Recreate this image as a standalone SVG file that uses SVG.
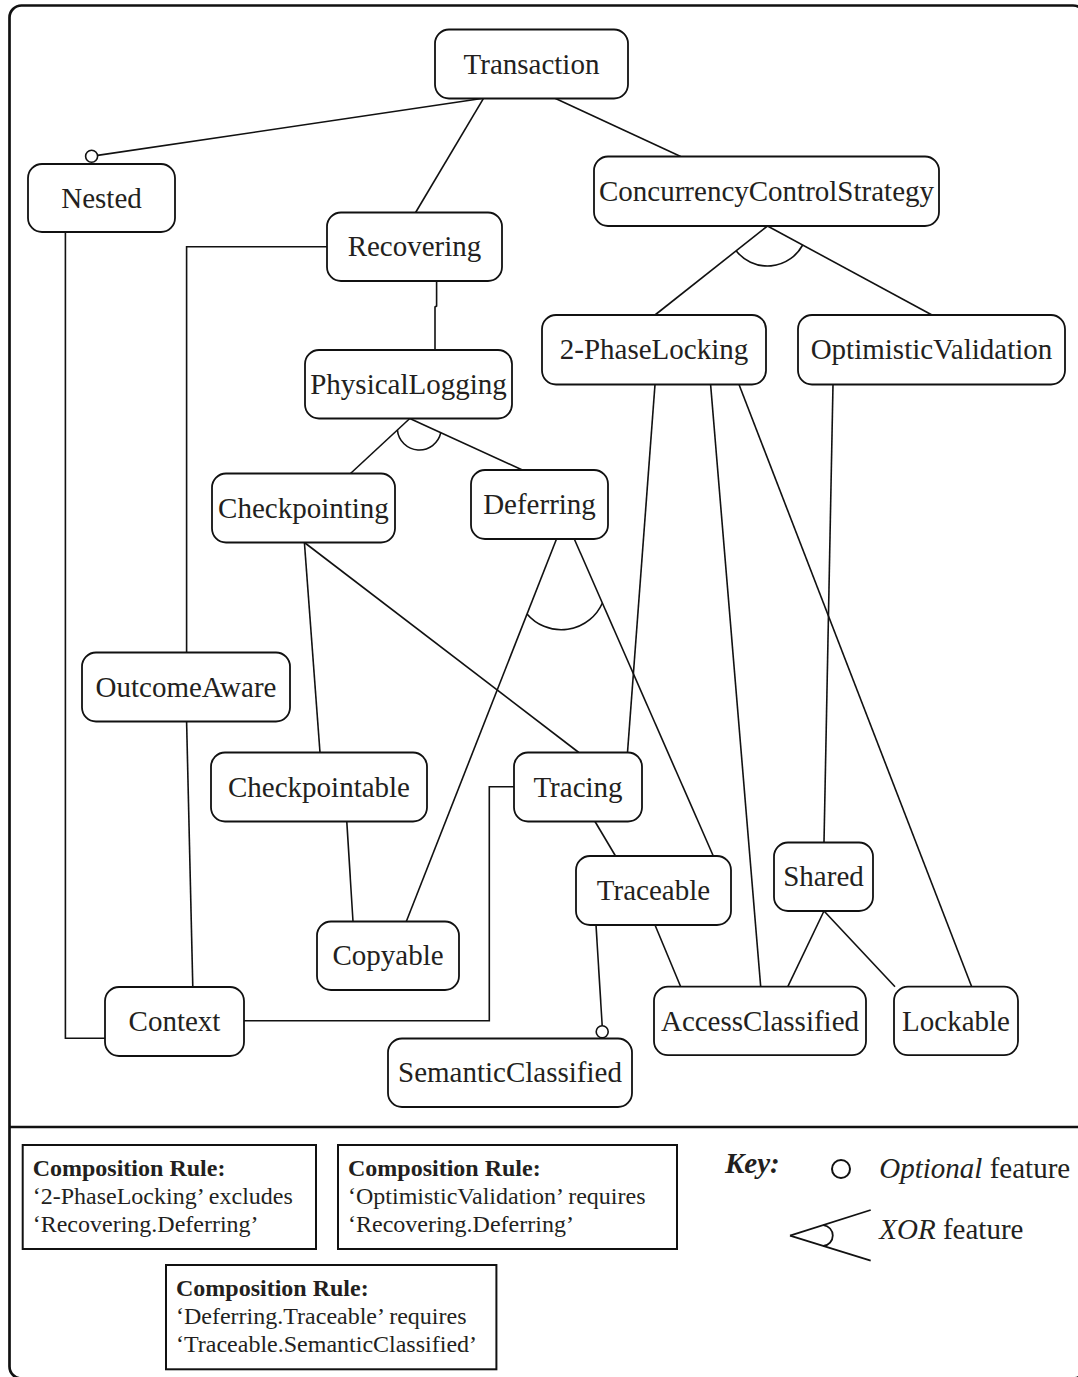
<svg xmlns="http://www.w3.org/2000/svg" width="1078" height="1377" viewBox="0 0 1078 1377">
<style>
.node rect{fill:#fff;stroke:#111;stroke-width:1.8}
.label{font-family:"Liberation Serif","Times New Roman",serif;font-size:29px;text-anchor:middle;fill:#231f20}
.conn line,.conn polyline,.conn path{fill:none;stroke:#111;stroke-width:1.6}
.opt{fill:#fff;stroke:#111;stroke-width:1.6}
.rule{fill:#fff;stroke:#111;stroke-width:2}
.rt{font-family:"Liberation Serif","Times New Roman",serif;font-size:24px;fill:#231f20}
.rb{font-weight:bold}
.kt{font-family:"Liberation Serif","Times New Roman",serif;font-size:29px;fill:#231f20}
</style>
<rect x="9.5" y="5.5" width="1075.5" height="1373" rx="12" fill="#fff" stroke="#111" stroke-width="2.7"/>
<line x1="9.5" y1="1127" x2="1085" y2="1127" stroke="#111" stroke-width="2.7"/>

<g class="conn" id="connectors">
<line x1="483.5" y1="98.3" x2="97.5" y2="155.4"/>
<line x1="483.5" y1="98.3" x2="415.6" y2="212.5"/>
<line x1="555" y1="98.3" x2="680.7" y2="156.5"/>
<line x1="767.5" y1="226" x2="655" y2="315"/>
<line x1="767.5" y1="226" x2="932" y2="315"/>
<path d="M736.1 250.8 A40 40 0 0 0 802.7 245"/>
<polyline points="436.6,281 436.6,306 435,307 435,350"/>
<polyline points="327,246.7 186.6,246.7 186.6,652.5"/>
<line x1="186.6" y1="721.5" x2="192.8" y2="987"/>
<polyline points="65.4,232 65.4,1038.3 105,1038.3"/>
<polyline points="514,786.7 489.3,786.7 489.3,1020.7 244,1020.7"/>
<line x1="409.8" y1="418.5" x2="350.5" y2="473.5"/>
<line x1="409.8" y1="418.5" x2="522.4" y2="470"/>
<path d="M397.4 430 A22 22 0 0 0 440.8 432.7"/>
<line x1="304.4" y1="542.5" x2="320" y2="752.5"/>
<line x1="304.4" y1="542.5" x2="578.8" y2="752.5"/>
<line x1="556.5" y1="539" x2="406.3" y2="921.5"/>
<line x1="574.3" y1="539" x2="713.3" y2="856"/>
<path d="M527 614 A45 45 0 0 0 602.4 603"/>
<line x1="346.8" y1="821.5" x2="353" y2="921.5"/>
<line x1="595" y1="821.5" x2="615.5" y2="856"/>
<line x1="596" y1="925" x2="602.2" y2="1025.8"/>
<line x1="655" y1="925" x2="680.7" y2="986.7"/>
<line x1="655" y1="384.5" x2="627.5" y2="752.5"/>
<line x1="710.6" y1="384.5" x2="760.7" y2="986.7"/>
<line x1="739" y1="384.5" x2="971.7" y2="986.7"/>
<line x1="833" y1="384.5" x2="824" y2="842.5"/>
<line x1="824" y1="911" x2="787.8" y2="986.7"/>
<line x1="824" y1="911" x2="895" y2="986.7"/>
<circle class="opt" cx="91.6" cy="156.3" r="6"/>
<circle class="opt" cx="602.2" cy="1031.8" r="6"/>
</g>

<g class="node" id="n-transaction"><rect x="435" y="29.5" width="193" height="69" rx="14"/><text class="label" x="531.5" y="73.5">Transaction</text></g>
<g class="node" id="n-nested"><rect x="28" y="164" width="147" height="68" rx="14"/><text class="label" x="101.5" y="207.5">Nested</text></g>
<g class="node" id="n-recovering"><rect x="327" y="212.5" width="175" height="68.5" rx="14"/><text class="label" x="414.5" y="256">Recovering</text></g>
<g class="node" id="n-ccs"><rect x="594" y="156.5" width="345" height="69.5" rx="14"/><text class="label" x="766.5" y="200.7">ConcurrencyControlStrategy</text></g>
<g class="node" id="n-physicallogging"><rect x="305" y="350" width="207" height="68.5" rx="14"/><text class="label" x="408.5" y="393.7">PhysicalLogging</text></g>
<g class="node" id="n-checkpointing"><rect x="212" y="473.5" width="183" height="69" rx="14"/><text class="label" x="303.5" y="517.5">Checkpointing</text></g>
<g class="node" id="n-deferring"><rect x="471" y="470" width="137" height="69" rx="14"/><text class="label" x="539.5" y="514">Deferring</text></g>
<g class="node" id="n-2pl"><rect x="542" y="315" width="224" height="69.5" rx="14"/><text class="label" x="654" y="359.2">2-PhaseLocking</text></g>
<g class="node" id="n-ov"><rect x="798" y="315" width="267" height="69.5" rx="14"/><text class="label" x="931.5" y="359.2">OptimisticValidation</text></g>
<g class="node" id="n-outcomeaware"><rect x="82" y="652.5" width="208" height="69" rx="14"/><text class="label" x="186" y="696.5">OutcomeAware</text></g>
<g class="node" id="n-checkpointable"><rect x="211" y="752.5" width="216" height="69" rx="14"/><text class="label" x="319" y="796.5">Checkpointable</text></g>
<g class="node" id="n-tracing"><rect x="514" y="752.5" width="128" height="69" rx="14"/><text class="label" x="578" y="796.5">Tracing</text></g>
<g class="node" id="n-copyable"><rect x="317" y="921.5" width="142" height="68.5" rx="14"/><text class="label" x="388" y="965.2">Copyable</text></g>
<g class="node" id="n-context"><rect x="105" y="987" width="139" height="69" rx="14"/><text class="label" x="174.5" y="1031">Context</text></g>
<g class="node" id="n-semanticclassified"><rect x="388" y="1038.5" width="244" height="68.5" rx="14"/><text class="label" x="510" y="1082.2">SemanticClassified</text></g>
<g class="node" id="n-traceable"><rect x="576" y="856" width="155" height="69" rx="14"/><text class="label" x="653.5" y="900">Traceable</text></g>
<g class="node" id="n-shared"><rect x="774" y="842.5" width="99" height="68.5" rx="14"/><text class="label" x="823.5" y="886.2">Shared</text></g>
<g class="node" id="n-accessclassified"><rect x="654" y="986.7" width="212" height="68.5" rx="14"/><text class="label" x="760" y="1030.5">AccessClassified</text></g>
<g class="node" id="n-lockable"><rect x="894" y="986.7" width="124" height="68.5" rx="14"/><text class="label" x="956" y="1030.5">Lockable</text></g>

<g id="rule1"><rect class="rule" x="22.7" y="1145" width="293.3" height="104"/>
<text class="rt rb" x="32.7" y="1175.5">Composition Rule:</text>
<text class="rt" x="32.7" y="1204">‘2-PhaseLocking’ excludes</text>
<text class="rt" x="32.7" y="1232">‘Recovering.Deferring’</text></g>
<g id="rule2"><rect class="rule" x="338" y="1145" width="339" height="104"/>
<text class="rt rb" x="348" y="1175.5">Composition Rule:</text>
<text class="rt" x="348" y="1204">‘OptimisticValidation’ requires</text>
<text class="rt" x="348" y="1232">‘Recovering.Deferring’</text></g>
<g id="rule3"><rect class="rule" x="166" y="1265" width="330.4" height="104.3"/>
<text class="rt rb" x="176" y="1295.5">Composition Rule:</text>
<text class="rt" x="176" y="1324">‘Deferring.Traceable’ requires</text>
<text class="rt" x="176" y="1352">‘Traceable.SemanticClassified’</text></g>

<g id="key">
<text class="kt" x="725" y="1173" font-size="28" font-weight="bold" font-style="italic">Key:</text>
<circle cx="841" cy="1169" r="9" fill="#fff" stroke="#111" stroke-width="2"/>
<text class="kt" x="879.3" y="1178"><tspan font-style="italic">Optional</tspan> feature</text>
<line x1="790" y1="1235.7" x2="870.7" y2="1210" stroke="#111" stroke-width="1.8"/>
<line x1="790" y1="1235.7" x2="870.7" y2="1260.7" stroke="#111" stroke-width="1.8"/>
<path d="M823.3 1225.1 A10.5 10.5 0 0 1 823.3 1246" fill="none" stroke="#111" stroke-width="1.8"/>
<text class="kt" x="879.3" y="1239"><tspan font-style="italic">XOR</tspan> feature</text>
</g>
</svg>
